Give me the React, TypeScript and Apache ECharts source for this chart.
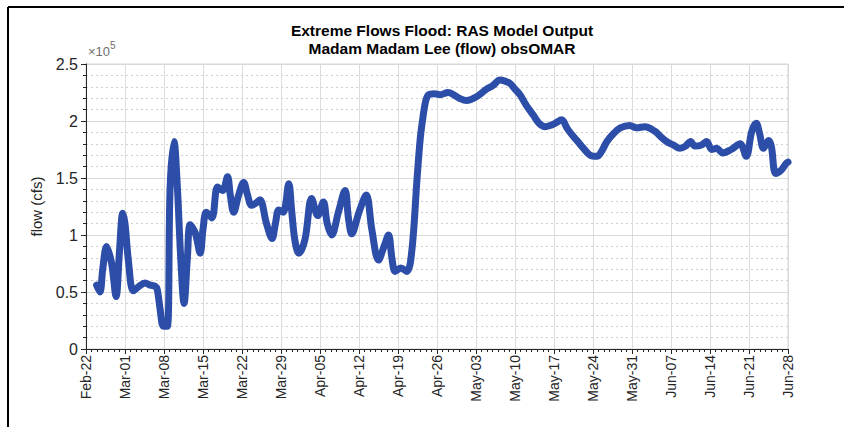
import React, { useEffect, useRef } from "react";
import * as echarts from "echarts";

// Day offsets from Feb-22 and flow (x1e5 cfs)
const startDateUTC = Date.UTC(2019, 1, 22);
const monthNames = ["Jan", "Feb", "Mar", "Apr", "May", "Jun", "Jul", "Aug", "Sep", "Oct", "Nov", "Dec"];

const dayOffsets = [
  1.9, 2.5, 3.0, 3.7, 4.6, 5.4, 6.0, 6.6, 7.0, 7.6, 8.5, 9.5, 10.6, 11.5, 12.4, 12.8, 13.3, 13.9, 14.6,
  15.1, 15.8, 16.4, 17.0, 17.6, 18.2, 18.7, 19.6, 20.5, 21.0, 21.6, 22.6, 23.6, 24.5, 25.4, 25.9, 26.5,
  27.4, 28.3, 29.0, 29.7, 30.5, 31.2, 32.4, 33.4, 34.0, 34.6, 35.4, 36.4, 36.9, 37.5, 38.2, 39.3, 40.5,
  41.6, 42.6, 43.3, 44.1, 45.3, 46.5, 47.1, 47.7, 49.0, 50.3, 51.3, 52.5, 53.5, 54.3, 54.9, 55.5, 56.5,
  57.6, 58.5, 59.4, 60.0, 60.5, 61.0, 61.5, 62.5, 63.5, 65.0, 66.0, 67.0, 68.3, 70.0, 71.9, 73.0, 74.3,
  75.2, 76.1, 77.0, 77.9, 79.0, 80.3, 81.3, 82.4, 83.3, 84.2, 85.4, 86.3, 87.2, 88.1, 89.3, 90.5, 91.7,
  92.5, 93.5, 94.7, 95.9, 97.6, 98.8, 100.3, 102.1, 103.2, 104.2, 105.4, 106.6, 107.6, 108.5, 109.3,
  110.5, 111.4, 112.3, 113.2, 114.3, 115.8, 117.4, 118.5, 119.5, 120.3, 120.9, 121.6, 122.5, 123.0,
  123.8, 124.8, 125.7, 126.0,
];

const flowValues = [
  0.56, 0.50, 0.70, 0.90, 0.75, 0.46, 0.85, 1.19, 1.10, 0.78, 0.51, 0.55, 0.58, 0.56, 0.55, 0.52, 0.35, 0.20, 0.20,
  1.42, 1.82, 1.42, 0.80, 0.40, 0.80, 1.09, 1.02, 0.84, 1.05, 1.20, 1.15, 1.42, 1.39, 1.51, 1.35, 1.20,
  1.35, 1.46, 1.35, 1.26, 1.28, 1.31, 1.10, 0.97, 1.10, 1.22, 1.20, 1.45, 1.22, 0.95, 0.84, 0.96, 1.32,
  1.17, 1.29, 1.10, 1.00, 1.20, 1.39, 1.15, 1.01, 1.20, 1.35, 1.05, 0.78, 0.90, 1.00, 0.80, 0.68, 0.71,
  0.68, 0.87, 1.48, 1.85, 2.04, 2.18, 2.23, 2.24, 2.23, 2.25, 2.23, 2.20, 2.18, 2.21, 2.28, 2.31, 2.36,
  2.35, 2.33, 2.28, 2.23, 2.14, 2.05, 1.98, 1.95, 1.96, 1.98, 2.01, 1.94, 1.88, 1.83, 1.76, 1.70, 1.69,
  1.73, 1.82, 1.89, 1.94, 1.96, 1.94, 1.95, 1.91, 1.86, 1.82, 1.79, 1.76, 1.78, 1.82, 1.78,
  1.79, 1.82, 1.75, 1.76, 1.72, 1.75, 1.80, 1.69, 1.91, 1.98, 1.89, 1.76, 1.83, 1.78,
  1.54, 1.57, 1.63, 1.64,
];

const yTickLabels = ["0", "0.5", "1", "1.5", "2", "2.5"];
const titleLines = ["Extreme Flows Flood: RAS Model Output", "Madam Madam Lee (flow) obsOMAR"];

const FONT = "'Liberation Sans', Arial, Helvetica, sans-serif";

function formatDay(v: number): string {
  const d = new Date(startDateUTC + Math.round(v) * 86400000);
  return `${monthNames[d.getUTCMonth()]}-${String(d.getUTCDate()).padStart(2, "0")}`;
}

export default function App() {
  const ref = useRef<HTMLDivElement>(null);
  useEffect(() => {
    if (!ref.current) return;
    const chart = echarts.init(ref.current, undefined, { renderer: "svg" });
    const data = dayOffsets.map((d, i) => [d, flowValues[i] * 1e5]);
    chart.setOption({
      animation: false,
      backgroundColor: "#ffffff",
      title: {
        text: titleLines.join("\n"),
        left: 437,
        textAlign: "center",
        top: 16,
        textStyle: {
          fontFamily: FONT,
          fontSize: 15.5,
          fontWeight: "bold",
          color: "#000",
          lineHeight: 18,
        },
      },
      grid: {
        left: 86,
        right: 56,
        top: 64,
        bottom: 78,
        show: true,
        borderColor: "#d4d4d4",
        borderWidth: 1,
        backgroundColor: "transparent",
      },
      xAxis: {
        type: "value",
        min: 0,
        max: 126,
        interval: 7,
        axisLine: { show: true, lineStyle: { color: "#262626", width: 1 } },
        axisTick: { show: true, inside: false, length: 5, lineStyle: { color: "#262626" } },
        minorTick: { show: true, splitNumber: 7, length: 3, lineStyle: { color: "#262626" } },
        splitLine: { show: true, lineStyle: { color: "#dcdcdc", width: 1 } },
        minorSplitLine: { show: false },
        axisLabel: {
          rotate: 90,
          fontFamily: FONT,
          fontSize: 14,
          color: "#262626",
          margin: 6,
          formatter: (v: number) => formatDay(v),
        },
      },
      yAxis: {
        type: "value",
        min: 0,
        max: 250000,
        interval: 50000,
        name: "flow (cfs)",
        nameLocation: "middle",
        nameGap: 42,
        nameTextStyle: { fontFamily: FONT, fontSize: 15, color: "#262626" },
        axisLine: { show: true, lineStyle: { color: "#262626", width: 1 } },
        axisTick: { show: true, inside: false, length: 5, lineStyle: { color: "#262626" } },
        minorTick: { show: true, splitNumber: 5, length: 3, lineStyle: { color: "#262626" } },
        splitLine: { show: true, lineStyle: { color: "#d9d9d9", width: 1 } },
        minorSplitLine: { show: true, lineStyle: { color: "#d0d0d0", type: [2, 3], width: 1 } },
        axisLabel: {
          fontFamily: FONT,
          fontSize: 16,
          color: "#262626",
          margin: 8,
          formatter: (v: number) => yTickLabels[Math.round(v / 50000)] ?? "",
        },
      },
      graphic: [
        {
          type: "line",
          shape: { x1: 8, y1: 7, x2: 844, y2: 7 },
          style: { stroke: "#000", lineWidth: 2 },
        },
        {
          type: "line",
          shape: { x1: 8, y1: 7, x2: 8, y2: 427 },
          style: { stroke: "#000", lineWidth: 2 },
        },
        {
          type: "text",
          x: 88,
          y: 51,
          style: {
            text: "×10",
            fontFamily: FONT,
            fontSize: 13,
            fill: "#6e6e6e",
            verticalAlign: "middle",
          },
        },
        {
          type: "text",
          x: 110,
          y: 45,
          style: {
            text: "5",
            fontFamily: FONT,
            fontSize: 10,
            fill: "#6e6e6e",
            verticalAlign: "middle",
          },
        },
      ],
      series: [
        {
          type: "line",
          data,
          showSymbol: false,
          smooth: 0.35,
          lineStyle: { color: "#2d4ea8", width: 7, cap: "round", join: "round" },
          itemStyle: { color: "#2d4ea8" },
        },
      ],
    });
    return () => chart.dispose();
  }, []);
  return (
    <div
      ref={ref}
      style={{ position: "absolute", left: 0, top: 0, width: 844, height: 427 }}
    />
  );
}
